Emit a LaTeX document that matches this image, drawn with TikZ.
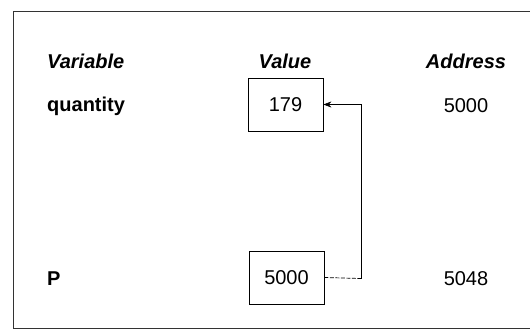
\documentclass[tikz,border=0pt]{standalone}
\usepackage{fontspec}
\setmainfont{Liberation Sans}
\usetikzlibrary{arrows.meta}
\tikzset{
  lbl/.style={inner sep=0pt, font=\fontsize{20}{24}\selectfont},
  cell/.style={draw, line width=0.8pt, minimum width=75pt, minimum height=53pt, inner sep=0pt, font=\fontsize{20}{24}\selectfont},
  link/.style={line width=0.7pt}
}
\begin{document}
\begin{tikzpicture}[x=1pt,y=1pt,yscale=-1,xscale=1]
\useasboundingbox (0,0) rectangle (530,330);
%Shape: Frame
\draw [line width=0.8pt, black!80] (540,11) -- (13,11) -- (13,328) -- (540,328) ;

% Text Node
\node (hvar) [lbl, anchor=base west] at (47,68) {\bfseries\itshape Variable};
% Text Node
\node (hval) [lbl, anchor=base] at (285,68) {\bfseries\itshape Value};
% Text Node
\node (hadr) [lbl, anchor=base] at (466,68) {\bfseries\itshape Address};

% Text Node
\node (vq) [lbl, anchor=base west] at (47,111.5) {\bfseries quantity};
%Shape: Rectangle
\node (bq) [cell] at (285.5,104.5) {179};
% Text Node
\node (aq) [lbl, anchor=base] at (466,112.5) {5000};

% Text Node
\node (vp) [lbl, anchor=base west] at (47,285.5) {\bfseries P};
%Shape: Rectangle
\node (bp) [cell] at (286.5,277.5) {5000};
% Text Node
\node (ap) [lbl, anchor=base] at (466,285.5) {5048};

%Straight Lines [pointer]
\coordinate (cb) at (361,278.5);
\coordinate (ct) at (361,104.5);
\draw [link, dashed, dash pattern=on 4pt off 1.5pt] (bp.east) -- (cb) ;
\draw [link, -{Stealth[length=8pt,width=6pt]}] (cb) -- (ct) -- (bq.east) ;
\end{tikzpicture}
\end{document}
